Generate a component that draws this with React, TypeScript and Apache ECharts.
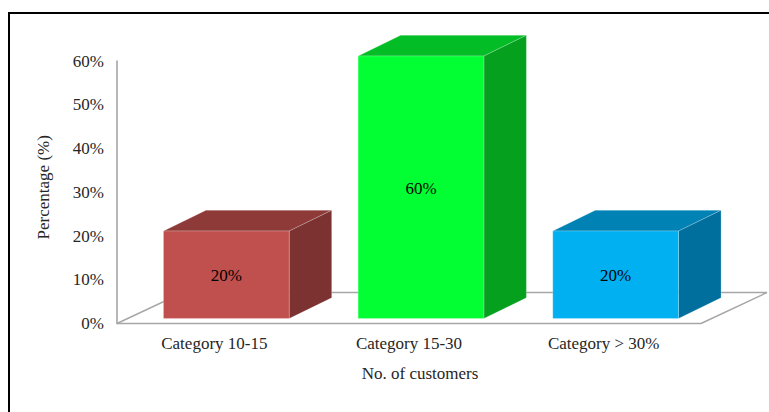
import React, { useEffect, useRef } from "react";
import * as echarts from "echarts";

const categories = ["Category 10-15", "Category 15-30", "Category > 30%"];
const percentages = [20, 60, 20];
const faceColors = ["#C0504D", "#02FF33", "#00B0F0"];
const topColors = ["#8E3A38", "#02BD25", "#0082B4"];
const sideColors = ["#7B3230", "#04A01E", "#006F9D"];
const yTicks = [0, 10, 20, 30, 40, 50, 60];

const FONT = "Liberation Serif";
const TEXT = "#262626";
const FLOOR = "#A6A6A6";

// Oblique projection used for the floor and for the boxes
const BOX_DX = 42.5;
const BOX_DY = -20.7;
const FLOOR_DX = 66;
const FLOOR_DY = -31;

const renderFloor = (params: any, api: any) => {
  const cs = params.coordSys;
  const y = api.coord([0, 0])[1];
  const l = cs.x;
  const r = cs.x + cs.width;
  return {
    type: "group",
    children: [
      {
        type: "polyline",
        shape: {
          points: [
            [l, y],
            [l + FLOOR_DX, y + FLOOR_DY],
            [r + FLOOR_DX, y + FLOOR_DY],
            [r, y],
          ],
        },
        style: { fill: "none", stroke: FLOOR, lineWidth: 1.4 },
      },
    ],
  };
};

const renderBox = (params: any, api: any) => {
  const i = params.dataIndex;
  const [cx, y0] = api.coord([api.value(0), 0]);
  const [, y1] = api.coord([api.value(0), api.value(1)]);
  const band = api.size([1, 0])[0];
  const w = band * 0.646;
  const left = cx + 12 - w / 2;
  const right = left + w;
  const base = y0 - 5;
  const top = y1 - 5;
  const edge = { stroke: "rgba(255,255,255,0.22)", lineWidth: 1 };
  return {
    type: "group",
    children: [
      {
        type: "polygon",
        shape: {
          points: [
            [left, top],
            [right, top],
            [right + BOX_DX, top + BOX_DY],
            [left + BOX_DX, top + BOX_DY],
          ],
        },
        style: { fill: topColors[i], ...edge },
      },
      {
        type: "polygon",
        shape: {
          points: [
            [right, top],
            [right + BOX_DX, top + BOX_DY],
            [right + BOX_DX, base + BOX_DY],
            [right, base],
          ],
        },
        style: { fill: sideColors[i], ...edge },
      },
      {
        type: "rect",
        shape: { x: left, y: top, width: w, height: base - top },
        style: { fill: faceColors[i], ...edge },
      },
      {
        type: "text",
        style: {
          x: (left + right) / 2,
          y: (top + base) / 2 + 1,
          text: `${api.value(1)}%`,
          align: "center",
          verticalAlign: "middle",
          fill: "#000000",
          font: `17px "${FONT}"`,
        },
      },
    ],
  };
};

export default function App() {
  const ref = useRef<HTMLDivElement>(null);

  useEffect(() => {
    const chart = echarts.init(ref.current!, undefined, { renderer: "svg" });
    chart.setOption({
      animation: false,
      backgroundColor: "#FFFFFF",
      grid: { left: 117, top: 61, width: 584, height: 262.5 },
      xAxis: {
        type: "category",
        data: categories,
        name: "No. of customers",
        nameLocation: "middle",
        nameGap: 41,
        nameTextStyle: {
          fontFamily: FONT,
          fontSize: 17,
          color: TEXT,
          padding: [0, 0, 0, 22],
        },
        axisLine: { show: true, lineStyle: { color: FLOOR, width: 1.4 } },
        axisTick: { show: false },
        axisLabel: {
          fontFamily: FONT,
          fontSize: 17,
          color: TEXT,
          margin: 11,
        },
      },
      yAxis: {
        type: "value",
        min: yTicks[0],
        max: yTicks[yTicks.length - 1],
        interval: 10,
        name: "Percentage (%)",
        nameLocation: "middle",
        nameGap: 65,
        nameTextStyle: {
          fontFamily: FONT,
          fontSize: 17,
          color: TEXT,
          padding: [0, 0, 0, 10],
        },
        splitLine: { show: false },
        axisTick: { show: false },
        axisLine: { show: true, lineStyle: { color: FLOOR, width: 1.6 } },
        axisLabel: {
          fontFamily: FONT,
          fontSize: 17,
          color: TEXT,
          margin: 13,
          padding: [3, 0, 0, 0],
          formatter: "{value}%",
        },
      },
      graphic: [
        {
          type: "polyline",
          silent: true,
          shape: {
            points: [
              [9, 412],
              [9, 13],
              [769, 13],
            ],
          },
          style: { fill: "none", stroke: "#000000", lineWidth: 2 },
        },
      ],
      series: [
        {
          type: "custom",
          renderItem: renderFloor,
          data: [[0, 0]],
          silent: true,
          z: 1,
        },
        {
          type: "custom",
          renderItem: renderBox,
          data: categories.map((_, i) => [i, percentages[i]]),
          encode: { x: 0, y: 1 },
          clip: false,
          z: 2,
        },
      ],
    });
    return () => chart.dispose();
  }, []);

  return (
    <div
      ref={ref}
      style={{ position: "absolute", left: 0, top: 0, width: 769, height: 412 }}
    />
  );
}
